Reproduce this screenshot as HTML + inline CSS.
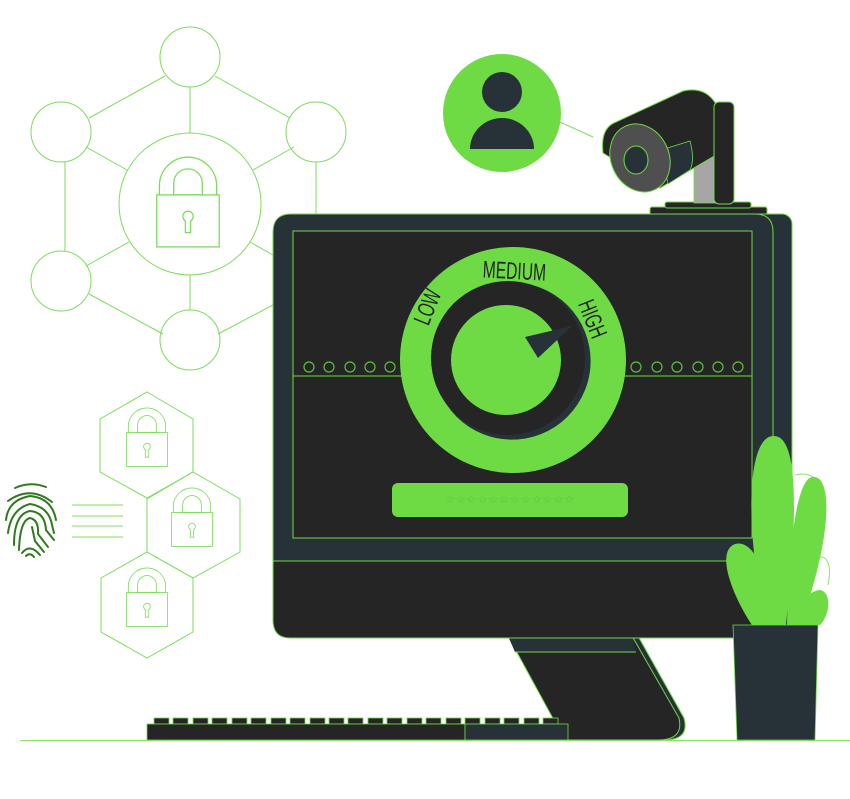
<!DOCTYPE html>
<html><head><meta charset="utf-8"><style>
html,body{margin:0;padding:0;background:#fff;}
svg{display:block;}
text{font-family:"Liberation Sans",sans-serif;}
</style></head><body>
<svg width="850" height="799" viewBox="0 0 850 799" xmlns="http://www.w3.org/2000/svg">
<defs>
<g id="lock">
  <path d="M-22,-17 V-24 A22,22 0 0 1 22,-24 V-17" fill="none" stroke="#7ddc5c" stroke-width="1"/>
  <path d="M-11,-17 V-26 A11,11 0 0 1 11,-26 V-17 Z" fill="none" stroke="#7ddc5c" stroke-width="1"/>
  <rect x="-24" y="-17" width="48" height="40" fill="none" stroke="#7ddc5c" stroke-width="1"/>
  <path d="M-2,12 V3 A4,4 0 1 1 2,3 V12 Z" fill="none" stroke="#7ddc5c" stroke-width="1"/>
</g>
</defs>

<!-- network -->
<g stroke="#7ddc5c" stroke-width="1" fill="none">
  <line x1="190" y1="87" x2="190" y2="133"/>
  <line x1="190" y1="275" x2="190" y2="310"/>
  <line x1="165" y1="76" x2="89" y2="118"/>
  <line x1="215" y1="76" x2="290" y2="118"/>
  <line x1="86" y1="147" x2="127" y2="170"/>
  <line x1="294" y1="147" x2="253" y2="170"/>
  <line x1="65" y1="162" x2="65" y2="251"/>
  <line x1="316" y1="162" x2="316" y2="214"/>
  <line x1="86" y1="266" x2="129" y2="242"/>
  <line x1="250" y1="242" x2="273" y2="255"/>
  <line x1="89" y1="294" x2="163" y2="334"/>
  <line x1="218" y1="334" x2="273" y2="305"/>
  <circle cx="190" cy="57" r="30"/>
  <circle cx="61" cy="132" r="30"/>
  <circle cx="316" cy="132" r="30"/>
  <circle cx="61" cy="281" r="30"/>
  <circle cx="190" cy="340" r="30"/>
  <circle cx="190" cy="204" r="71"/>
</g>
<g transform="translate(188,217) scale(1.3)"><use href="#lock"/></g>

<!-- hexagons -->
<g stroke="#7ddc5c" stroke-width="1" fill="none">
  <polygon points="147,392 193,419 193,472 147,498 100,472 100,419"/>
  <polygon points="193,472 240,499 240,552 193,578 147,552 147,499"/>
  <polygon points="147,552 193,578 193,632 147,658 101,632 101,578"/>
</g>
<g transform="translate(147,447) scale(0.85)"><use href="#lock"/></g>
<g transform="translate(192,527) scale(0.85)"><use href="#lock"/></g>
<g transform="translate(147,607) scale(0.85)"><use href="#lock"/></g>

<!-- lines by fingerprint -->
<g stroke="#9be47f" stroke-width="1.2">
  <line x1="72" y1="505" x2="123" y2="505"/>
  <line x1="72" y1="516" x2="123" y2="516"/>
  <line x1="72" y1="526" x2="123" y2="526"/>
  <line x1="72" y1="537" x2="123" y2="537"/>
</g>
<!-- fingerprint -->
<g fill="none" stroke="#2f7a1f" stroke-width="2" stroke-linecap="round">
  <path d="M15,488 Q30,481 46,487"/>
  <path d="M8,501 Q30,485 52,502"/>
  <path d="M6,520 Q8,500 30,496 Q52,498 56,520"/>
  <path d="M8,533 Q11,509 30,504 Q49,507 52,525 L54,533"/>
  <path d="M14,545 Q14,514 30,511 Q45,512 46,530 L54,540"/>
  <path d="M19,550 Q20,520 30,518 Q39,520 38,534 L48,547"/>
  <path d="M32,527 L35,541 L44,552"/>
  <path d="M22,553 Q30,543 40,555"/>
  <path d="M26,556 Q30,552 34,557"/>
</g>

<!-- user icon -->
<line x1="560" y1="122" x2="593" y2="137" stroke="#7ddc5c" stroke-width="1"/>
<circle cx="502" cy="113" r="59" fill="#6edb45"/>
<circle cx="502" cy="92" r="20" fill="#263238"/>
<path d="M470,149 A32,31 0 0 1 534,149 Z" fill="#263238"/>

<!-- camera -->
<rect x="650" y="207" width="117" height="8" rx="2" fill="#252525" stroke="#6edb45" stroke-width="1"/>
<rect x="665" y="202" width="86" height="6" rx="2" fill="#252525" stroke="#6edb45" stroke-width="1"/>
<rect x="694" y="150" width="22" height="53" fill="#a6a6a6" stroke="#6edb45" stroke-width="0.8"/>
<path d="M603,153 Q600,128 616,122 L683,91 Q705,86 716,104 L716,155 L660,188 Z" fill="#252525" stroke="#6edb45" stroke-width="1"/>
<path d="M661,150 L690,141 Q695,160 690,170 L668,184 Z" fill="#263238" stroke="#6edb45" stroke-width="0.8"/>
<rect x="714" y="102" width="20" height="102" rx="5" fill="#252525" stroke="#6edb45" stroke-width="1"/>
<ellipse cx="640" cy="158" rx="29" ry="35" transform="rotate(-25 640 158)" fill="#4f4f4f" stroke="#6edb45" stroke-width="1"/>
<ellipse cx="636" cy="160" rx="12" ry="14" fill="#263238" stroke="#6edb45" stroke-width="1"/>

<!-- stand -->
<path d="M512,636 L638,636 L684,718 Q690,740 664,740 L560,740 L556,724 Z" fill="#263238" stroke="#6edb45" stroke-width="1"/>
<path d="M508,636 L632,636 L679,718 Q684,740 658,740 L560,740 L556,724 Z" fill="#252525" stroke="#6edb45" stroke-width="1"/>
<path d="M508,636 L632,636 L636,652 L515,652 Z" fill="#263238"/>
<line x1="515" y1="652" x2="636" y2="652" stroke="#6edb45" stroke-width="1"/>

<!-- monitor back -->
<rect x="290" y="214" width="502" height="424" rx="10" fill="#263238" stroke="#6edb45" stroke-width="1"/>
<!-- monitor front -->
<path d="M273,561 V232 Q273,214 291,214 H755 Q773,214 773,232 V561 Z" fill="#263238" stroke="#6edb45" stroke-width="1"/>
<path d="M273,561 H773 V638 H290 Q273,638 273,620 Z" fill="#252525" stroke="#6edb45" stroke-width="1"/>
<rect x="293" y="231" width="459" height="307" fill="#252525" stroke="#6edb45" stroke-width="1"/>
<line x1="293" y1="376" x2="752" y2="376" stroke="#6edb45" stroke-width="1"/>
<g fill="none" stroke="#5cbf3a" stroke-width="1.2">
  <circle cx="309" cy="367" r="5"/><circle cx="329" cy="367" r="5"/><circle cx="350" cy="367" r="5"/><circle cx="370" cy="367" r="5"/><circle cx="390" cy="367" r="5"/>
  <circle cx="636" cy="367" r="5"/><circle cx="657" cy="367" r="5"/><circle cx="677" cy="367" r="5"/><circle cx="698" cy="367" r="5"/><circle cx="718" cy="367" r="5"/><circle cx="738" cy="367" r="5"/>
</g>

<!-- dial -->
<circle cx="513" cy="360" r="113" fill="#6edb45"/>
<circle cx="512" cy="361" r="79" fill="#263238" stroke="#6edb45" stroke-width="0.8"/>
<circle cx="508" cy="358" r="77" fill="#252525"/>
<circle cx="506" cy="360" r="55" fill="#6edb45"/>
<polygon points="525,337 572,326 538,358" fill="#263238"/>
<g fill="#252525" font-size="24">
  <text x="0" y="0" text-anchor="middle" transform="translate(435,310) rotate(-68) scale(0.65,1)">LOW</text>
  <text x="0" y="0" text-anchor="middle" transform="translate(514,279) rotate(3) scale(0.65,1)">MEDIUM</text>
  <text x="0" y="0" text-anchor="middle" transform="translate(585,322) rotate(68) scale(0.65,1)">HIGH</text>
</g>
<rect x="392" y="483" width="236" height="34" rx="6" fill="#6edb45"/>
<text x="510" y="503" text-anchor="middle" font-size="11" fill="#5cc43a" letter-spacing="1">☆☆☆☆☆☆☆☆☆☆☆☆</text>

<!-- keyboard -->
<g fill="#252525" stroke="#6edb45" stroke-width="0.8">
  <rect x="154" y="718" width="15" height="6"/><rect x="173" y="718" width="15" height="6"/><rect x="193" y="718" width="15" height="6"/><rect x="212" y="718" width="15" height="6"/><rect x="232" y="718" width="15" height="6"/><rect x="251" y="718" width="15" height="6"/><rect x="271" y="718" width="15" height="6"/><rect x="290" y="718" width="15" height="6"/><rect x="310" y="718" width="15" height="6"/><rect x="329" y="718" width="15" height="6"/><rect x="348" y="718" width="15" height="6"/><rect x="368" y="718" width="15" height="6"/><rect x="387" y="718" width="15" height="6"/><rect x="407" y="718" width="15" height="6"/><rect x="426" y="718" width="15" height="6"/><rect x="446" y="718" width="15" height="6"/><rect x="465" y="718" width="15" height="6"/><rect x="485" y="718" width="15" height="6"/><rect x="504" y="718" width="15" height="6"/><rect x="524" y="718" width="15" height="6"/><rect x="543" y="718" width="15" height="6"/>
  <rect x="147" y="724" width="318" height="16"/>
</g>
<rect x="465" y="724" width="103" height="16" fill="#263238" stroke="#6edb45" stroke-width="0.8"/>

<!-- ground -->
<line x1="20" y1="740.5" x2="850" y2="740.5" stroke="#8de46a" stroke-width="1"/>

<!-- plant -->
<path d="M795,475 Q815,470 822,490" fill="none" stroke="#8de46a" stroke-width="1"/>
<path d="M810,558 Q835,550 828,585" fill="none" stroke="#8de46a" stroke-width="1"/>
<path d="M768,625 C748,560 742,438 773,436 C800,434 797,520 786,625 Z" fill="#6edb45"/>
<path d="M787,625 C788,560 795,480 812,477 C835,474 830,545 800,625 Z" fill="#6edb45"/>
<path d="M752,625 C735,600 714,552 735,544 C756,538 772,585 776,625 Z" fill="#6edb45"/>
<path d="M790,625 C798,600 812,590 820,590 C832,592 830,615 820,625 Z" fill="#6edb45"/>
<polygon points="733,625 818,625 815,740 737,740" fill="#263238" stroke="#6edb45" stroke-width="0.8"/>
</svg>
</body></html>
